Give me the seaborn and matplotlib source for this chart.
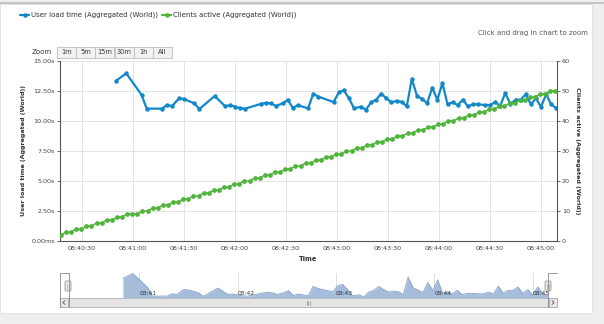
import numpy as np
import pandas as pd
import matplotlib
matplotlib.use("Agg")
import matplotlib.pyplot as plt
import matplotlib.dates as mdates
from matplotlib.ticker import FuncFormatter, FixedLocator
from matplotlib.patches import Rectangle, FancyBboxPatch
from matplotlib.lines import Line2D
import seaborn as sns

# ---------------- data ----------------
base_time = "2013-05-21 08:40:00"
series_names = ["User load time (Aggregated (World))", "Clients active (Aggregated (World))"]

# User load time samples: offset in seconds after 08:40:00, value in seconds
load_offsets_s = [50, 56, 65, 68, 77, 80, 83, 87, 90, 96, 99, 108, 114, 117, 120, 123, 126,
                  135, 138, 141, 144, 148, 151, 154, 157, 163, 166, 169, 178, 181, 184, 187,
                  190, 194, 197, 200, 203, 206, 209, 212, 215, 218, 221, 224, 227, 230, 233,
                  236, 239, 242, 245, 248, 251, 254, 257, 260, 263, 267, 270, 273, 276, 279,
                  282, 285, 288, 291, 294, 297, 300, 303, 306, 309]
load_time_s = [13.36, 13.97, 12.17, 11.03, 11.03, 11.33, 11.25, 11.89, 11.83, 11.47, 11.00,
               12.08, 11.25, 11.30, 11.20, 11.06, 11.03, 11.42, 11.50, 11.47, 11.25, 11.47,
               11.75, 11.10, 11.30, 11.06, 12.28, 12.03, 11.58, 12.39, 12.55, 11.89, 11.06,
               11.19, 10.94, 11.56, 11.78, 12.28, 11.89, 11.56, 11.67, 11.61, 11.22, 13.50,
               12.11, 11.83, 11.50, 12.78, 11.78, 13.15, 11.39, 11.56, 11.33, 11.78, 11.22,
               11.39, 11.39, 11.33, 11.33, 11.56, 11.28, 12.33, 11.39, 11.78, 11.78, 12.22,
               11.39, 11.89, 11.17, 12.22, 11.39, 11.06]

# Clients active: sampled every 3 s starting 08:40:17.5
clients_start_offset_s = 17.5
clients_interval = "3s"
clients_active = [2, 3, 3, 4, 4, 5, 5, 6, 6, 7, 7, 8, 8, 9, 9, 9, 10, 10, 11, 11, 12, 12,
                  13, 13, 14, 14, 15, 15, 16, 16, 17, 17, 18, 18, 19, 19, 20, 20, 21, 21,
                  22, 22, 23, 23, 24, 24, 25, 25, 26, 26, 27, 27, 28, 28, 29, 29, 30, 30,
                  31, 31, 32, 32, 33, 33, 34, 34, 35, 35, 36, 36, 37, 37, 38, 38, 39, 39,
                  40, 40, 41, 41, 42, 42, 43, 43, 44, 44, 45, 45, 46, 46, 47, 47, 48, 48,
                  49, 49, 50, 50]

left_ticks = [0, 2.5, 5, 7.5, 10, 12.5, 15]
right_ticks = [0, 10, 20, 30, 40, 50, 60]
zoom_buttons = ["1m", "5m", "15m", "30m", "1h", "All"]

# ---------------- frames ----------------
t0 = pd.Timestamp(base_time)
load_df = pd.DataFrame({
    "time": t0 + pd.to_timedelta(load_offsets_s, unit="s"),
    "value": load_time_s,
})
clients_df = pd.DataFrame({
    "time": pd.date_range(t0 + pd.to_timedelta(clients_start_offset_s, unit="s"),
                          periods=len(clients_active), freq=clients_interval),
    "value": clients_active,
})

BLUE = "#1388c8"
GREEN = "#4fb43a"
TXT = "#444444"

sns.set_style("white")
plt.rcParams["font.family"] = ["DejaVu Sans"]

W, H = 604, 324
fig = plt.figure(figsize=(W / 100, H / 100), dpi=100, facecolor="#eeeeee")


def fr(x, y):
    return x / W, 1 - y / H


# white panel (behind everything)
fig.patches.append(Rectangle((0, 1 - 313 / H), 592 / W, (313 - 4) / H,
                             transform=fig.transFigure, facecolor="white",
                             edgecolor="#dddddd", lw=0.6, zorder=-5))
fig.patches.append(Rectangle((0, 1 - 3.5 / H), 1, 1.2 / H, transform=fig.transFigure,
                             facecolor="#c4c4c4", edgecolor="none", zorder=-5))

# ---------------- main chart ----------------
ax = fig.add_axes([60 / W, 1 - 241 / H, 497 / W, 180 / H])
ax.set_facecolor("white")
sns.lineplot(data=load_df, x="time", y="value", ax=ax, color=BLUE, linewidth=1.6,
             marker="o", markersize=3.2, markeredgewidth=0, label=series_names[0],
             legend=False, zorder=3)
ax.set_ylim(0, 15)
ax.set_xlim(t0 + pd.Timedelta(seconds=17.0), t0 + pd.Timedelta(seconds=309.4))
ax.yaxis.set_major_locator(FixedLocator(left_ticks))
ax.yaxis.set_major_formatter(FuncFormatter(lambda v, _: "0.00ms" if v == 0 else f"{v:.2f}s"))
ax.xaxis.set_major_locator(mdates.SecondLocator(bysecond=[0, 30]))
ax.xaxis.set_major_formatter(mdates.DateFormatter("%H:%M:%S"))
ax.grid(True, color="#e3e3e3", lw=0.7)
ax.set_axisbelow(True)
for s in ["top", "right"]:
    ax.spines[s].set_visible(False)
for s in ["left", "bottom"]:
    ax.spines[s].set_color("#555555")
    ax.spines[s].set_linewidth(0.8)
ax.tick_params(axis="both", labelsize=4.6, colors="#555555", labelcolor=TXT,
               length=2.5, width=0.6, pad=1)
ax.set_xlabel("Time", fontsize=4.8, fontweight="bold", color="#333333")
ax.xaxis.set_label_coords(0.5, -0.085)
ax.set_ylabel(series_names[0], fontsize=4.6, fontweight="bold", color="#333333")
ax.yaxis.set_label_coords(-0.068, 0.5)

ax2 = ax.twinx()
sns.lineplot(data=clients_df, x="time", y="value", ax=ax2, color=GREEN, linewidth=1.0,
             marker="o", markersize=3.4, markeredgewidth=0, label=series_names[1],
             legend=False, zorder=4)
ax2.set_ylim(0, 60)
ax2.yaxis.set_major_locator(FixedLocator(right_ticks))
for s in ["top", "left", "bottom"]:
    ax2.spines[s].set_visible(False)
ax2.spines["right"].set_color("#555555")
ax2.spines["right"].set_linewidth(0.8)
ax2.tick_params(axis="y", labelsize=4.6, colors="#555555", labelcolor=TXT,
                length=2.5, width=0.6, pad=1)
ax2.set_ylabel(series_names[1], fontsize=4.6, fontweight="bold", color="#333333",
               rotation=270, va="bottom")
ax2.yaxis.set_label_coords(1.036, 0.5)
ax2.set_xlim(ax.get_xlim())

# legend
handles = [Line2D([], [], color=BLUE, lw=1.6, marker="o", ms=3.2, mew=0),
           Line2D([], [], color=GREEN, lw=1.6, marker="o", ms=3.2, mew=0)]
leg = fig.legend(handles, series_names, loc="upper left", bbox_to_anchor=fr(20, 12),
                 ncol=2, frameon=False, fontsize=5.0, handlelength=1.3,
                 handletextpad=0.3, columnspacing=0.6, borderaxespad=0, borderpad=0)
for t in leg.get_texts():
    t.set_color("#333333")

# ---------------- navigator ----------------
nav = fig.add_axes([60 / W, 1 - 297.5 / H, 497 / W, 25 / H])
nav.set_facecolor("white")
nav.fill_between(load_df["time"], 10.85, load_df["value"], color="#a5bcdb", lw=0, zorder=2)
sns.lineplot(data=load_df, x="time", y="value", ax=nav, color="#819fca", linewidth=0.6,
             legend=False, zorder=3)
nav.set_ylim(10.85, 14.1)
nav.set_xlim(t0 + pd.Timedelta(seconds=11.6), t0 + pd.Timedelta(seconds=314.8))
for m in pd.date_range(t0 + pd.Timedelta(minutes=1), t0 + pd.Timedelta(minutes=5), freq="1min"):
    nav.axvline(m, color="#dedede", lw=0.7, zorder=1)
    nav.text(m, 0.05, m.strftime("%H:%M"), transform=nav.get_xaxis_transform(),
             fontsize=4.3, color="#333333", ha="left", va="bottom", zorder=4)
nav.set_xticks([])
nav.set_yticks([])
nav.set_xlabel("")
nav.set_ylabel("")
for s in nav.spines.values():
    s.set_visible(False)

# ---------------- UI chrome (pixel overlay) ----------------
ui = fig.add_axes([0, 0, 1, 1], zorder=10)
ui.set_xlim(0, W)
ui.set_ylim(H, 0)
ui.axis("off")

# zoom buttons
ui.text(32, 52, "Zoom", fontsize=5.0, color="#333333", ha="left", va="center")
bx = 57
for lab in zoom_buttons:
    ui.add_patch(Rectangle((bx, 46.5), 19, 11, facecolor="#f2f2f2", edgecolor="#bdbdbd", lw=0.6))
    ui.text(bx + 9.5, 52.2, lab, fontsize=4.8, color="#333333", ha="center", va="center")
    bx += 19.2

ui.text(588, 33, "Click and drag in chart to zoom", fontsize=5.0, color="#555555",
        ha="right", va="center")

# scrollbar
ui.add_patch(Rectangle((60, 298), 497, 9, facecolor="#eeeeee", edgecolor="#bbbbbb", lw=0.6))
ui.add_patch(Rectangle((68, 298), 480, 9, facecolor="#e4e4e4", edgecolor="#b5b5b5", lw=0.6))
ui.add_patch(Rectangle((60, 298), 8, 9, facecolor="#e8e8e8", edgecolor="#aaaaaa", lw=0.6))
ui.add_patch(Rectangle((549, 298), 8, 9, facecolor="#e8e8e8", edgecolor="#aaaaaa", lw=0.6))
ui.plot([65, 63, 65], [300.5, 302.5, 304.5], color="#555555", lw=0.6)
ui.plot([552, 554, 552], [300.5, 302.5, 304.5], color="#555555", lw=0.6)
for dx in (-1.5, 0, 1.5):
    ui.plot([308 + dx, 308 + dx], [300.5, 304.5], color="#777777", lw=0.4)

# navigator outline and handles
ui.plot([60, 60, 69, 69], [307, 272.5, 272.5, 307], color="#888888", lw=0.6)
ui.plot([548, 548, 557], [307, 272.5, 272.5], color="#888888", lw=0.6)
for hx in (68, 548):
    ui.add_patch(FancyBboxPatch((hx - 3, 281), 6, 10, boxstyle="round,pad=0,rounding_size=1.2",
                                facecolor="#ebe7e8", edgecolor="#999999", lw=0.6))
    ui.plot([hx - 1, hx - 1], [283.5, 288.5], color="#999999", lw=0.4)
    ui.plot([hx + 1, hx + 1], [283.5, 288.5], color="#999999", lw=0.4)

fig.savefig("out.png", dpi=100, facecolor=fig.get_facecolor())
